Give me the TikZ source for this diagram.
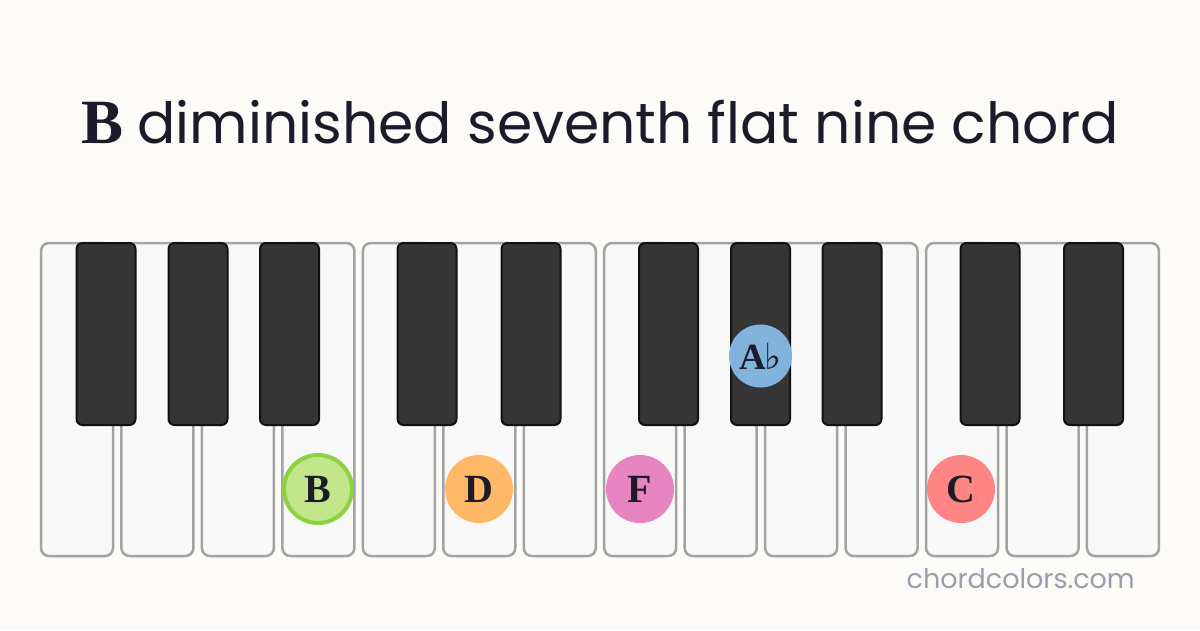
\documentclass[tikz,border=0pt]{standalone}
\usepackage{fontspec}
\newfontfamily\titlefont{Poppins}
\newfontfamily\serifb{Liberation Serif}
\newfontfamily\symf{DejaVu Sans}
\definecolor{bgc}{HTML}{FCFBF7}
\definecolor{txt}{HTML}{1B1B2A}
\definecolor{wkfill}{HTML}{F8F8F8}
\definecolor{wkline}{HTML}{A3A3A3}
\definecolor{bkfill}{HTML}{353535}
\definecolor{bkline}{HTML}{111111}
\definecolor{cB}{HTML}{C2E68A}
\definecolor{cBline}{HTML}{8ED13E}
\definecolor{cD}{HTML}{FFB866}
\definecolor{cF}{HTML}{E884C0}
\definecolor{cAb}{HTML}{82B3DD}
\definecolor{cC}{HTML}{FF8585}
\definecolor{wm}{HTML}{9C9CAC}
\tikzset{
  whitekey/.style={draw=wkline, fill=wkfill, line width=2.5pt, rounded corners=8pt},
  blackkey/.style={draw=bkline, fill=bkfill, line width=2pt, rounded corners=6pt},
  notedot/.style={circle, minimum size=68pt, inner sep=0pt, text=txt,
    font=\serifb\bfseries\fontsize{40}{42}\selectfont},
}
\begin{document}
\begin{tikzpicture}[x=1pt,y=-1pt]
\fill[bgc] (0,0) rectangle (1200,630);
\useasboundingbox (0,0) rectangle (1200,630);
% title
\node[anchor=base, text=txt, inner sep=0pt] (title) at (600,143)
  {{\serifb\bfseries\fontsize{63}{65}\selectfont B}\hspace{14pt}{\titlefont\fontsize{56.8}{60}\selectfont diminished seventh flat nine chord}};
% white keys
\foreach \i in {0,...,13} {
  \pgfmathsetmacro{\xl}{41+80.46*\i}
  \draw[whitekey] (\xl,243) rectangle ++(72,313);
}
% black keys
\foreach \c in {106,198,289.5,427,531,668.5,760.5,852,990,1093.5} {
  \draw[blackkey] (\c-29.5,243) rectangle (\c+29.5,425);
}
% notes
\node[notedot, fill=cB, draw=cBline, line width=4pt, minimum size=68pt] (nB) at (318,489) {B};
\node[notedot, fill=cD] (nD) at (479,489) {D};
\node[notedot, fill=cF] (nF) at (640,489) {F};
\node[notedot, fill=cC] (nC) at (961,489) {C};
\node[notedot, fill=cAb, minimum size=63pt, font=\serifb\bfseries\fontsize{37}{38}\selectfont] (nAb) at (760.5,356) {A\kern-1.5pt{\symf\mdseries\fontsize{36}{36}\selectfont ♭}};
% watermark
\node[anchor=base east, text=wm, inner sep=0pt, font=\titlefont\fontsize{27}{29}\selectfont] (wmk) at (1135,588) {chordcolors.com};
\end{tikzpicture}
\end{document}
